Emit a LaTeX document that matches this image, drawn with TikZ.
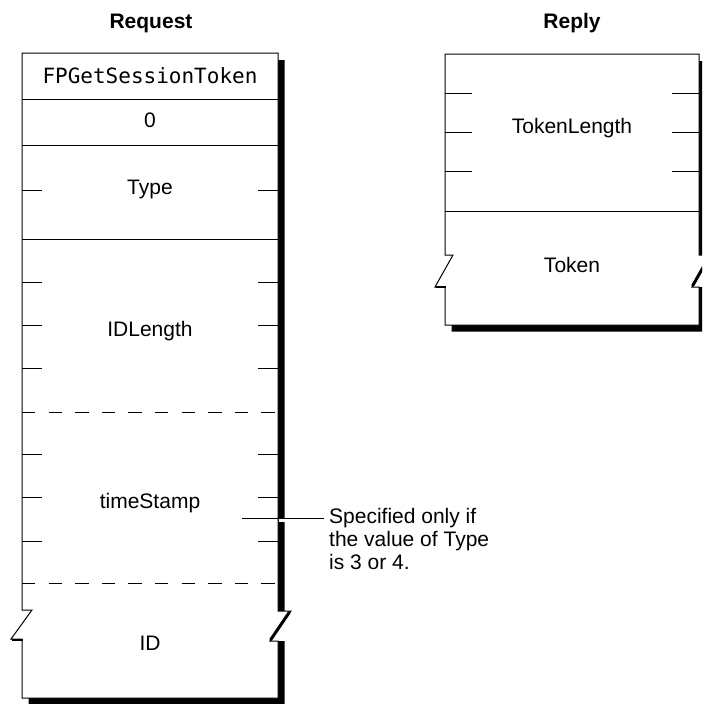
\documentclass[tikz,border=0pt]{standalone}
\usepackage{fontspec}
\setmainfont{Liberation Sans}
\setmonofont{DejaVu Sans Mono}
\usetikzlibrary{positioning,calc}

\begin{document}
\begin{tikzpicture}[x=1pt,y=-1pt,
  lbl/.style={font=\fontsize{21}{23}\selectfont, anchor=base, inner sep=0pt},
  mono/.style={lbl, font=\fontsize{21}{23}\selectfont\ttfamily},
  ttl/.style={lbl, font=\fontsize{21}{23}\selectfont\bfseries},
  note/.style={font=\fontsize{21}{23}\selectfont, align=left, anchor=north west, inner xsep=5pt, inner ysep=0pt},
  rule/.style={line width=1pt},
  bytebreak/.style={line width=1pt, dash pattern=on 13.3pt off 13.3pt},
  shadowfill/.style={fill=black},
  boxline/.style={draw=black, fill=white, line width=1pt},
  breakline/.style={line width=3pt}]
  \useasboundingbox (0,0) rectangle (702,704);
  \clip (0,0) rectangle (702,704);

  % request block
  \fill[shadowfill] (278,60) rectangle (284.5,611)
    (278,641) -- (284.5,641) -- (284.5,704.5) -- (28.5,704.5) -- (28.5,698) -- (278,698) -- cycle;
  \path[boxline] (22,53) -- (278,53) -- (278,611) -- (291,611) -- (270,641) -- (278,641)
    -- (278,698) -- (22,698) -- (22,639) -- (11,639) -- (32,610) -- (22,610) -- cycle;
  \draw[breakline] (289.5,612) -- (270.5,640);
  \draw[line width=2pt] (12,639.5) -- (23,639.5);
  \foreach \y in {99,145,239}
    \draw[rule] (22,\y) -- (278,\y);
  \foreach \y in {412,583}
    \draw[bytebreak] (22,\y) -- (278,\y);
  \foreach \y in {190,282,325.5,368.5,454,497.5,541}
    \draw[rule] (22,\y) -- +(20,0) (258,\y) -- +(20,0);

  % reply block
  \fill[shadowfill] (699,61) rectangle (705.5,255)
    (699,287) -- (705.5,287) -- (705.5,331.5) -- (451.5,331.5) -- (451.5,325) -- (699,325) -- cycle;
  \path[boxline] (445,54) -- (699,54) -- (699,255) -- (711,255) -- (692,287) -- (699,287)
    -- (699,325) -- (445,325) -- (445,287) -- (435,287) -- (453,255) -- (445,255) -- cycle;
  \draw[breakline] (709.5,256) -- (692.5,286);
  \draw[line width=2pt] (436,286.5) -- (446,286.5);
  \draw[rule] (445,211) -- (699,211);
  \foreach \y in {93.25,132.5,171.75}
    \draw[rule] (445,\y) -- +(27,0) (672,\y) -- +(27,0);

  % titles and field names
  \node[ttl] (reqtitle) at (151,28) {Request};
  \node[ttl] (reptitle) at (572,28) {Reply};
  \node[mono] (cmd) at (150,83) {FPGetSessionToken};
  \node[lbl] (pad) at (150,127) {0};
  \node[lbl] (type) at (150,194) {Type};
  \node[lbl] (idlen) at (150,336) {IDLength};
  \node[lbl] (stamp) at (150,508) {timeStamp};
  \node[lbl] (id) at (150,650) {ID};
  \node[lbl] (toklen) at (572,133) {TokenLength};
  \node[lbl] (token) at (572,272) {Token};

  % side note
  \node[note] (cond) at (324,508.5) {Specified only if\\the value of Type\\is 3 or 4.};
  \coordinate (stampmark) at (242,518.5);
  \draw[white, line width=3pt] (279,520.5) -- (286,520.5);
  \draw[rule] (stampmark) -- (stampmark -| cond.west);
\end{tikzpicture}
\end{document}
